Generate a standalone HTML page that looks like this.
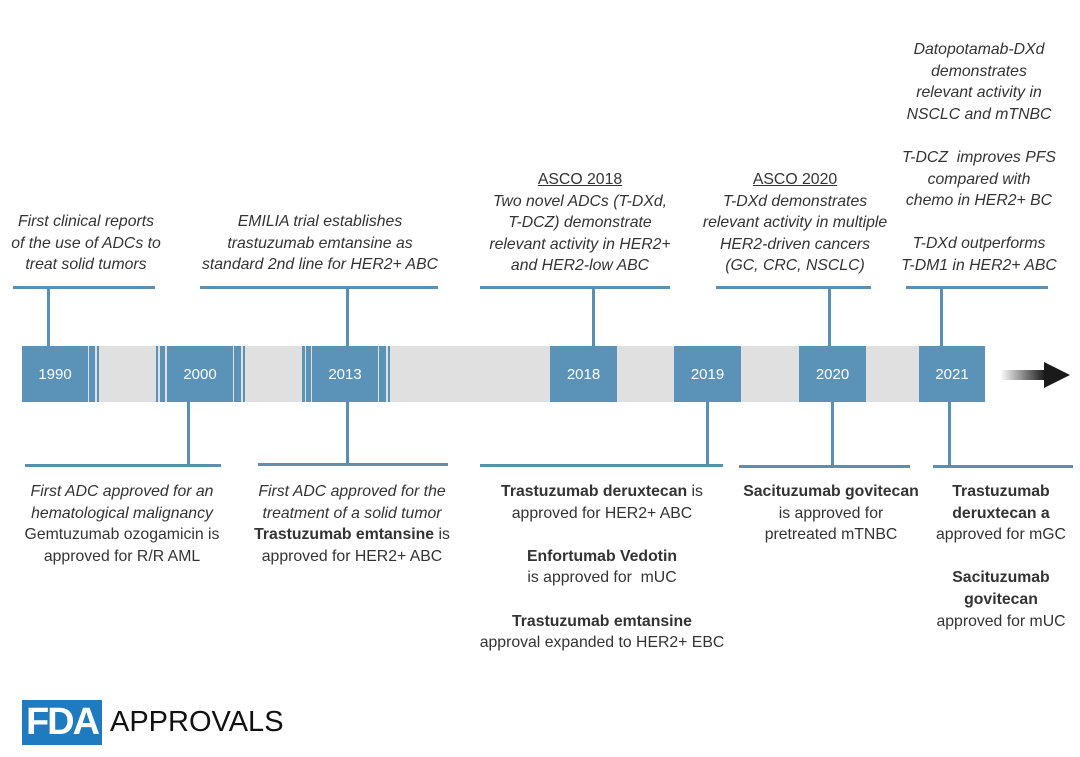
<!DOCTYPE html>
<html><head><meta charset="utf-8"><style>
body{margin:0;width:1080px;height:757px;background:#fff;position:relative;overflow:hidden;font-family:"Liberation Sans",sans-serif;color:#333}
.a{position:absolute}
.t{position:absolute;text-align:center;font-size:15.8px;line-height:21.6px;transform:translateX(-50%);white-space:nowrap}
.i{font-style:italic}
b{font-weight:bold;color:#333}
.u{text-decoration:underline}
.ln{position:absolute;background:#5b8fb2}
.box{position:absolute;top:346px;height:56px;background:#5b93b8;color:#fff;font-size:15px;font-weight:500;display:flex;align-items:center;justify-content:center}
.sl{position:absolute;top:346px;height:56px;background:#5b93b8}
</style></head><body>
<div class="a" style="left:22px;top:346px;width:963px;height:56px;background:#e0e0e0"></div>
<div class="box" style="left:22px;width:66px">1990</div>
<div class="sl" style="left:89px;width:6px"></div><div class="sl" style="left:97px;width:2px"></div>
<div class="sl" style="left:156px;width:2px"></div><div class="sl" style="left:160px;width:5px"></div>
<div class="box" style="left:167px;width:66px">2000</div>
<div class="sl" style="left:234px;width:7px"></div><div class="sl" style="left:243px;width:2px"></div>
<div class="sl" style="left:302px;width:3px"></div><div class="sl" style="left:306px;width:5px"></div>
<div class="box" style="left:312px;width:66px">2013</div>
<div class="sl" style="left:379px;width:7px"></div><div class="sl" style="left:388px;width:2px"></div>
<div class="box" style="left:550px;width:67px">2018</div>
<div class="box" style="left:674px;width:67px">2019</div>
<div class="box" style="left:799px;width:67px">2020</div>
<div class="box" style="left:919px;width:66px">2021</div>
<div class="a" style="left:1000px;top:370px;width:45px;height:10px;background:linear-gradient(90deg,rgba(30,30,30,0),#1a1a1a)"></div>
<svg class="a" style="left:1040px;top:360px" width="32" height="30"><polygon points="4,2 30,15 4,28" fill="#1a1a1a"/></svg>

<div class="ln" style="left:13px;top:286px;width:142px;height:3px"></div><div class="ln" style="left:47px;top:287px;width:3px;height:59px"></div>
<div class="ln" style="left:200px;top:286px;width:238px;height:3px"></div><div class="ln" style="left:346px;top:287px;width:3px;height:59px"></div>
<div class="ln" style="left:480px;top:286px;width:190px;height:3px"></div><div class="ln" style="left:592px;top:287px;width:3px;height:59px"></div>
<div class="ln" style="left:716px;top:286px;width:155px;height:3px"></div><div class="ln" style="left:828px;top:287px;width:3px;height:59px"></div>
<div class="ln" style="left:906px;top:286px;width:142px;height:3px"></div><div class="ln" style="left:940px;top:287px;width:3px;height:59px"></div>
<div class="ln" style="left:25px;top:464px;width:196px;height:3px"></div><div class="ln" style="left:187px;top:402px;width:3px;height:63px"></div>
<div class="ln" style="left:258px;top:463px;width:190px;height:3px"></div><div class="ln" style="left:346px;top:402px;width:3px;height:62px"></div>
<div class="ln" style="left:480px;top:464px;width:243px;height:3px"></div><div class="ln" style="left:706px;top:402px;width:3px;height:63px"></div>
<div class="ln" style="left:739px;top:465px;width:171px;height:3px"></div><div class="ln" style="left:831px;top:402px;width:3px;height:64px"></div>
<div class="ln" style="left:933px;top:465px;width:140px;height:3px"></div><div class="ln" style="left:948px;top:402px;width:3px;height:64px"></div>

<div class="t i" style="left:86px;top:211px">First clinical reports<br>of the use of ADCs to<br>treat solid tumors</div>
<div class="t i" style="left:320px;top:211px">EMILIA trial establishes<br>trastuzumab emtansine as<br>standard 2nd line for HER2+ ABC</div>
<div class="t i" style="left:580px;top:169px"><span class="u" style="font-style:normal">ASCO 2018 </span><br>Two novel ADCs (T-DXd,<br>T-DCZ) demonstrate<br>relevant activity in HER2+<br>and HER2-low ABC</div>
<div class="t i" style="left:795px;top:169px"><span class="u" style="font-style:normal">ASCO 2020 </span><br>T-DXd demonstrates<br>relevant activity in multiple<br>HER2-driven cancers<br>(GC, CRC, NSCLC)</div>
<div class="t i" style="left:979px;top:39px">Datopotamab-DXd<br>demonstrates<br>relevant activity in<br>NSCLC and mTNBC<br><br>T-DCZ&nbsp; improves PFS<br>compared with<br>chemo in HER2+ BC<br><br>T-DXd outperforms<br>T-DM1 in HER2+ ABC</div>

<div class="t" style="left:122px;top:481px"><i>First ADC approved for an<br>hematological malignancy</i><br>Gemtuzumab ozogamicin is<br>approved for R/R AML</div>
<div class="t" style="left:352px;top:481px"><i>First ADC approved for the<br>treatment of a solid tumor</i><br><b>Trastuzumab emtansine</b> is<br>approved for HER2+ ABC</div>
<div class="t" style="left:602px;top:481px"><b>Trastuzumab deruxtecan</b> is<br>approved for HER2+ ABC<br><br><b>Enfortumab Vedotin</b><br>is approved for&nbsp; mUC<br><br><b>Trastuzumab emtansine</b><br>approval expanded to HER2+ EBC</div>
<div class="t" style="left:831px;top:481px"><b>Sacituzumab govitecan</b><br>is approved for<br>pretreated mTNBC</div>
<div class="t" style="left:1001px;top:481px"><b>Trastuzumab<br>deruxtecan a</b><br>approved for mGC<br><br><b>Sacituzumab<br>govitecan</b><br>approved for mUC</div>

<div class="a" style="left:22px;top:700px;width:80px;height:45px;background:#1f7bbf;color:#fff;font-size:38px;font-weight:bold;line-height:45px;text-align:center;letter-spacing:-2px">FDA</div>
<div class="a" style="left:110px;top:704px;font-size:29px;color:#111;line-height:36px">APPROVALS</div>
</body></html>
